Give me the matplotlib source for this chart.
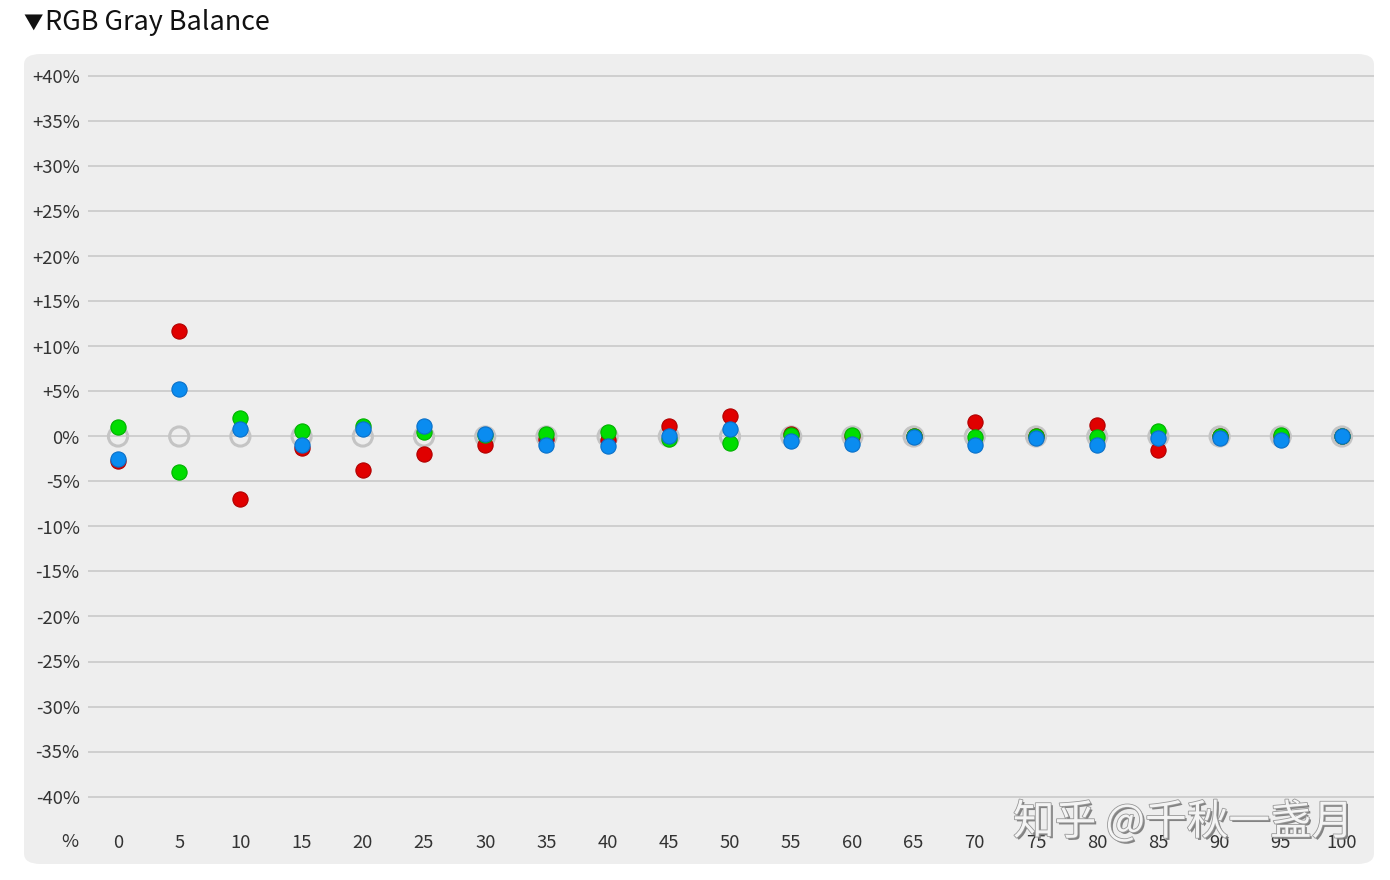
import matplotlib
matplotlib.use("Agg")
import matplotlib.pyplot as plt
import matplotlib.patheffects as pe
from matplotlib.patches import FancyBboxPatch

plt.rcParams['font.family'] = ['Noto Sans CJK SC', 'DejaVu Sans']

# Gray levels (%) and channel deviations (%)
levels = [0, 5, 10, 15, 20, 25, 30, 35, 40, 45, 50, 55, 60, 65, 70, 75, 80, 85, 90, 95, 100]
red = [-2.7, 11.7, -7.0, -1.3, -3.7, -2.0, -0.9, -0.3, -0.4, 1.15, 2.3, 0.3, 0.1, 0.0, 1.65, 0.0, 1.3, -1.5, 0.1, 0.0, 0.0]
green = [1.1, -4.0, 2.1, 0.6, 1.2, 0.5, 0.2, 0.3, 0.5, -0.25, -0.7, 0.2, 0.2, 0.1, -0.1, 0.1, -0.1, 0.6, 0.0, 0.2, 0.0]
blue = [-2.5, 5.3, 0.85, -0.9, 0.85, 1.15, 0.3, -0.9, -1.1, 0.0, 0.8, -0.55, -0.8, -0.1, -0.9, -0.15, -0.9, -0.15, -0.15, -0.35, 0.0]
target = [0] * len(levels)

y_ticks = list(range(-40, 45, 5))
y_labels = [("+%d%%" % v if v > 0 else "%d%%" % v) for v in y_ticks]

W, H = 1390, 880
fig = plt.figure(figsize=(W / 100, H / 100), dpi=100)
fig.patch.set_facecolor("white")

# rounded gray panel
panel = FancyBboxPatch((24 / W, 1 - 864 / H), (1374 - 24) / W, (864 - 54) / H,
                       boxstyle="round,pad=0,rounding_size=0.012",
                       transform=fig.transFigure, facecolor="#eeeeee",
                       edgecolor="none", zorder=0)
fig.patches.append(panel)

# title
fig.text(23 / W, 1 - 23 / H, "▼", fontsize=14, va="center", ha="left", color="#111111")
fig.text(45 / W, 1 - 22 / H, "RGB Gray Balance", fontsize=19.4, va="center", ha="left", color="#111111")

ax_left, ax_right = 88, 1374
ax_top, ax_bot = 66, 812
ax = fig.add_axes([ax_left / W, 1 - ax_bot / H, (ax_right - ax_left) / W, (ax_bot - ax_top) / H])
ax.set_zorder(2)
ax.patch.set_alpha(0)

px_x = 12.24
ax.set_xlim(-(118 - ax_left) / px_x, 100 + (ax_right - 1342) / px_x)
px_y = 9.0
ax.set_ylim(-(ax_bot - 436.5) / px_y, (436.5 - ax_top) / px_y)

for v in y_ticks:
    ax.axhline(v, color="#c6c6c6", linewidth=1.1, zorder=1)

ax.scatter(levels, target, s=190, facecolors="none", edgecolors="#c4c4c4", linewidths=2.2, zorder=2)
ax.scatter(levels, red, s=120, color="#e00000", edgecolors="#b00000", linewidths=0.8, zorder=3)
ax.scatter(levels, green, s=120, color="#00dd00", edgecolors="#00b000", linewidths=0.8, zorder=4)
ax.scatter(levels, blue, s=120, color="#0a8cf0", edgecolors="#0a70c8", linewidths=0.8, zorder=5)

ax.set_yticks(y_ticks)
ax.set_yticklabels(y_labels)
ax.set_xticks(levels)
ax.set_xticklabels([str(v) for v in levels])
ax.tick_params(axis="y", length=0, pad=6, labelsize=13.3, labelcolor="#333333")
ax.tick_params(axis="x", length=0, pad=16, labelsize=13.3, labelcolor="#333333")
for s in ax.spines.values():
    s.set_visible(False)

fig.text(70 / W, 1 - 842 / H, "%", fontsize=13.3, color="#333333", ha="center", va="center")

# watermark
fig.text(1183 / W, 1 - 822 / H, "知乎 @千秋一盏月", fontsize=30, color="#f4f4f4",
         ha="center", va="center", zorder=10,
         path_effects=[pe.withSimplePatchShadow(offset=(1.5, -1.5), shadow_rgbFace="#777777", alpha=0.9),
                       pe.Stroke(linewidth=1.2, foreground="#999999"), pe.Normal()])

fig.savefig("out.png", dpi=100)
